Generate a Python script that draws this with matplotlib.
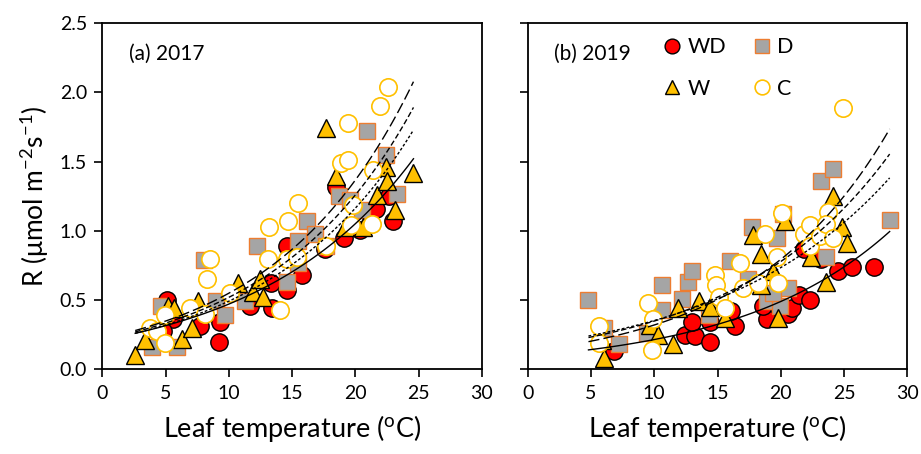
import numpy as np
import matplotlib
matplotlib.use('Agg')
import matplotlib.pyplot as plt

plt.rcParams['font.family'] = ['Lato', 'DejaVu Sans']
plt.rcParams['mathtext.default'] = 'regular'

# ---- (a) 2017 ----
a_wd_x = [5.1, 5.6, 4.8, 7.7, 9.2, 9.3, 11.7, 13.4, 13.3, 14.6, 14.6, 15.8, 17.6, 19.1, 18.5, 20.4, 21.6, 22.7, 23.0]
a_wd_y = [0.50, 0.36, 0.28, 0.31, 0.20, 0.34, 0.46, 0.44, 0.62, 0.57, 0.89, 0.68, 0.87, 0.95, 1.32, 1.01, 1.16, 1.25, 1.07]
a_d_x = [4.6, 3.9, 5.9, 8.0, 9.0, 9.7, 11.3, 12.2, 14.6, 15.5, 15.5, 16.2, 16.8, 17.7, 18.7, 19.6, 20.5, 20.9, 22.4, 23.3]
a_d_y = [0.46, 0.16, 0.16, 0.79, 0.49, 0.39, 0.49, 0.89, 0.63, 0.93, 0.77, 1.07, 0.98, 0.89, 1.25, 1.22, 1.15, 1.72, 1.55, 1.27]
a_w_x = [2.6, 3.4, 5.2, 5.7, 6.3, 7.1, 7.6, 10.75, 11.9, 12.5, 12.7, 17.7, 18.5, 19.2, 20.6, 21.7, 22.4, 22.5, 23.1, 24.6]
a_w_y = [0.10, 0.21, 0.46, 0.44, 0.22, 0.30, 0.49, 0.62, 0.56, 0.65, 0.52, 1.74, 1.40, 1.03, 1.03, 1.26, 1.46, 1.36, 1.15, 1.42]
a_c_x = [3.8, 4.3, 4.95, 4.95, 6.9, 8.1, 8.25, 8.5, 10.1, 13.1, 13.2, 14.05, 14.6, 14.7, 15.5, 15.4, 17.7,
         18.9, 19.45, 19.45, 19.85, 19.7, 21.3, 21.4, 21.95, 22.6]
a_c_y = [0.30, 0.28, 0.39, 0.19, 0.44, 0.40, 0.65, 0.80, 0.55, 0.80, 1.03, 0.43, 0.80, 1.07, 1.20, 0.81, 0.89,
         1.49, 1.51, 1.78, 1.19, 1.04, 1.05, 1.44, 1.90, 2.04]

# ---- (b) 2019 ----
b_wd_x = [6.8, 12.4, 13.2, 14.4, 12.95, 14.4, 16.4, 16.1, 18.9, 18.6, 20.6, 20.9, 21.4, 22.3, 21.8, 23.2, 24.5, 25.6, 27.4]
b_wd_y = [0.13, 0.25, 0.24, 0.20, 0.34, 0.34, 0.31, 0.42, 0.36, 0.46, 0.40, 0.44, 0.54, 0.50, 0.87, 0.80, 0.71, 0.74, 0.74]
b_d_x = [4.8, 7.2, 6.0, 9.4, 10.6, 10.6, 12.2, 12.7, 12.95, 14.3, 16.0, 17.7, 19.7, 20.2, 17.4, 18.9, 19.9, 20.6,
         19.4, 23.2, 24.15, 23.6, 28.6]
b_d_y = [0.50, 0.18, 0.30, 0.26, 0.43, 0.61, 0.51, 0.63, 0.71, 0.39, 0.78, 1.03, 0.95, 1.12, 0.65, 0.49, 0.46, 0.59,
         0.55, 1.36, 1.45, 0.81, 1.08]
b_w_x = [6.0, 5.85, 9.7, 10.3, 11.5, 11.9, 13.5, 14.4, 15.6, 17.8, 18.4, 18.4, 19.4, 19.8, 20.3, 22.4, 23.6, 24.1, 24.8, 25.2]
b_w_y = [0.08, 0.21, 0.32, 0.25, 0.18, 0.44, 0.49, 0.45, 0.37, 0.97, 0.83, 0.61, 0.71, 0.37, 1.07, 0.81, 0.63, 1.25, 1.03, 0.91]
b_c_x = [5.6, 5.6, 9.5, 9.9, 9.8, 14.8, 14.9, 15.1, 15.6, 16.8, 17.0, 18.2, 18.75, 19.7, 19.8, 20.1, 21.8, 22.3,
         22.3, 23.1, 23.75, 23.6, 24.1, 24.95]
b_c_y = [0.31, 0.19, 0.48, 0.36, 0.14, 0.68, 0.61, 0.52, 0.44, 0.77, 0.59, 0.62, 0.98, 0.81, 0.62, 1.13, 0.98, 1.04,
         0.89, 0.96, 1.14, 1.05, 0.95, 1.89]

# exponential fits R = a * exp(b * T), one per treatment
a_fit_a = [0.211, 0.208, 0.2145, 0.221]
a_fit_b = [0.0803, 0.0861, 0.0885, 0.0911]
b_fit_a = [0.0943, 0.169, 0.156, 0.129]
b_fit_b = [0.0824, 0.0735, 0.0804, 0.0909]
a_range = (2.6, 24.6)
b_range = (4.8, 28.6)

line_styles = ['-', (0, (2, 1.5)), (0, (4, 2)), (0, (8, 3))]

fig = plt.figure(figsize=(9.21, 4.54), dpi=100)
ax1 = fig.add_axes([0.1111, 0.1866, 0.4120, 0.7621])
ax2 = fig.add_axes([0.5730, 0.1866, 0.4122, 0.7621])


def draw_panel(ax, wd, d, w, c, fa, fb, xr, label):
    ms = 12.5
    ax.plot(wd[0], wd[1], 'o', ms=ms, mfc='#FF0000', mec='black', mew=1.0, ls='none', label='WD')
    ax.plot(d[0], d[1], 's', ms=ms - 1, mfc='#A5A5A5', mec='#ED7D31', mew=1.0, ls='none', label='D')
    ax.plot(w[0], w[1], '^', ms=ms, mfc='#FFC000', mec='black', mew=1.0, ls='none', label='W')
    ax.plot(c[0], c[1], 'o', ms=ms, mfc='white', mec='#FFC000', mew=1.2, ls='none', label='C')
    t = np.linspace(xr[0], xr[1], 100)
    for aa, bb, st in zip(fa, fb, line_styles):
        ax.plot(t, aa * np.exp(bb * t), color='black', lw=1.0, ls=st)
    ax.set_xlim(0, 30)
    ax.set_ylim(0, 2.5)
    ax.set_xticks(np.arange(0, 31, 5))
    ax.set_yticks(np.arange(0, 2.51, 0.5))
    ax.tick_params(direction='out', length=6, width=1.2, labelsize=14, pad=5)
    for sp in ax.spines.values():
        sp.set_linewidth(1.3)
    ax.set_xlabel('Leaf temperature ($^{o}$C)', fontsize=19.5, labelpad=8)
    ax.text(0.07, 0.895, label, transform=ax.transAxes, fontsize=15, va='baseline')


draw_panel(ax1, (a_wd_x, a_wd_y), (a_d_x, a_d_y), (a_w_x, a_w_y), (a_c_x, a_c_y),
           a_fit_a, a_fit_b, a_range, '(a) 2017')
draw_panel(ax2, (b_wd_x, b_wd_y), (b_d_x, b_d_y), (b_w_x, b_w_y), (b_c_x, b_c_y),
           b_fit_a, b_fit_b, b_range, '(b) 2019')

ax1.yaxis.set_major_formatter(matplotlib.ticker.FormatStrFormatter('%.1f'))
ax1.set_ylabel('R (μmol m$^{-2}$s$^{-1}$)', fontsize=19, labelpad=6)
ax2.set_yticklabels([])

h, l = ax2.get_legend_handles_labels()
order = [0, 2, 1, 3]
ax2.legend([h[i] for i in order], [l[i] for i in order], ncol=2, frameon=False,
           loc='upper left', bbox_to_anchor=(0.296, 1.015), fontsize=15.5, markerscale=0.85,
           handletextpad=0.1, handlelength=1.2, columnspacing=1.05, labelspacing=1.0)

plt.savefig('out.png', dpi=100)
